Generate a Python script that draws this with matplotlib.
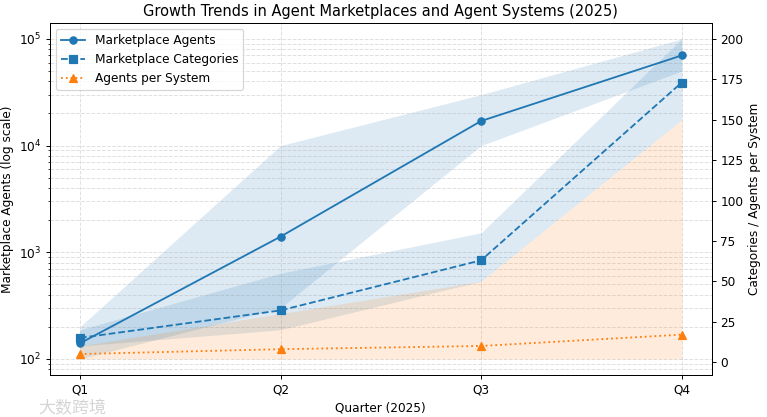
import numpy as np
import matplotlib.pyplot as plt

# quarterly data
quarters = ['Q1', 'Q2', 'Q3', 'Q4']
agents = [140, 1400, 17000, 70000]
agents_low = [100, 300, 10000, 50000]
agents_high = [200, 10000, 30000, 100000]

categories = [15, 32, 63, 173]
cat_low = [10, 20, 50, 150]
cat_high = [20, 55, 80, 200]

per_system = [5, 8, 10, 17]
per_low = [2, 2, 2, 2]
per_high = [10, 30, 50, 150]

x = np.arange(len(quarters))

dpi = 87.5
fig = plt.figure(figsize=(767 / dpi, 417 / dpi), dpi=dpi)
ax1 = fig.add_axes([0.065, 0.101, 0.863, 0.844])
ax2 = ax1.twinx()

# left axis: marketplace agents (log)
l1, = ax1.plot(x, agents, color='C0', marker='o', linestyle='-', label='Marketplace Agents')
ax1.fill_between(x, agents_low, agents_high, color='C0', alpha=0.15, linewidth=0)
ax1.set_yscale('log')
ax1.set_ylabel('Marketplace Agents (log scale)')
ax1.set_xlabel('Quarter (2025)')
ax1.set_xticks(x)
ax1.set_xticklabels(quarters)
ax1.grid(True, which='both', linestyle='--', alpha=0.4)

# right axis: categories and agents per system
l2, = ax2.plot(x, categories, color='C0', marker='s', linestyle='--', label='Marketplace Categories')
ax2.fill_between(x, cat_low, cat_high, color='C0', alpha=0.15, linewidth=0)
l3, = ax2.plot(x, per_system, color='C1', marker='^', linestyle=':', label='Agents per System')
ax2.fill_between(x, per_low, per_high, color='C1', alpha=0.15, linewidth=0)
ax2.set_ylabel('Categories / Agents per System')

ax1.set_title('Growth Trends in Agent Marketplaces and Agent Systems (2025)', fontsize=12)
ax1.legend(handles=[l1, l2, l3], loc='upper left')

# watermark
fig.text(0.05, 0.008, '大数跨境', color='#d0d0d0', fontsize=14,
         family=['Noto Sans CJK SC', 'DejaVu Sans'], alpha=0.9)

fig.savefig('out.png', dpi=dpi)
